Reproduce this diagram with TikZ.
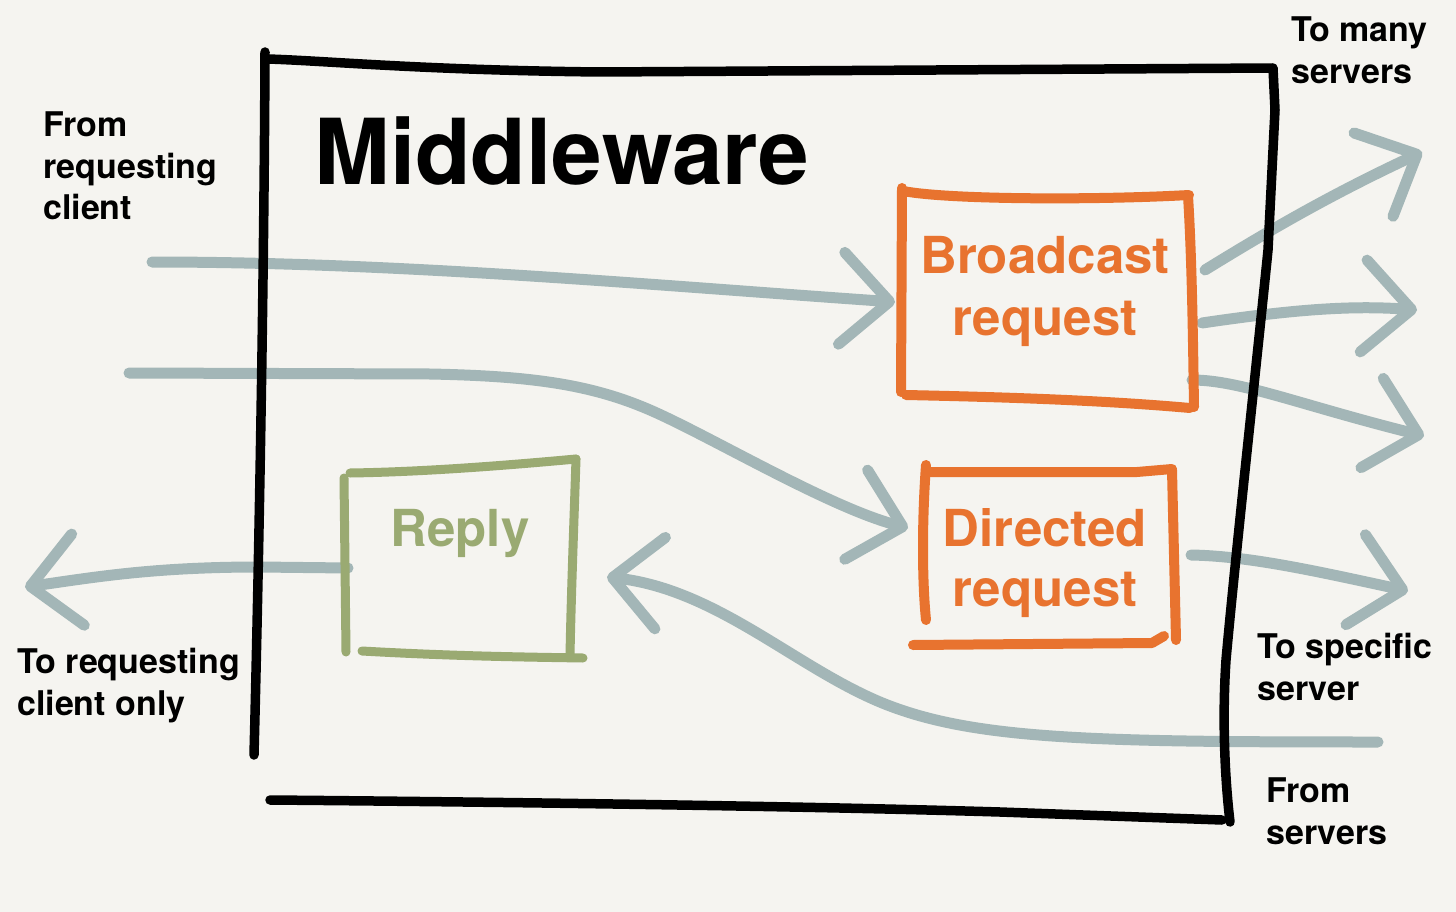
\documentclass[tikz,border=0pt]{standalone}
\usepackage{fontspec}
\setmainfont{TeX Gyre Heros}
\usetikzlibrary{arrows.meta}
\definecolor{bgc}{HTML}{F5F4F0}
\definecolor{orng}{HTML}{E8732F}
\definecolor{grn}{HTML}{9AAA72}
\definecolor{flow}{HTML}{A3B6B7}
\tikzset{
 frame/.style={line width=9.5pt, line cap=round, line join=round, black},
 obox/.style={line width=10pt, line cap=round, line join=round, orng},
 gbox/.style={line width=9pt, line cap=round, line join=round, grn},
 flowline/.style={line width=11pt, line cap=round, line join=round, flow, -{Straight Barb[length=48pt,width=92pt,round]}},
 lbl/.style={font=\fontsize{34}{42}\selectfont\bfseries, align=left, inner sep=0pt, anchor=base west},
 boxtext/.style={font=\fontsize{51}{62}\selectfont\bfseries, align=center, inner sep=0pt, anchor=base},
}
\begin{document}
\begin{tikzpicture}[x=1pt,y=-1pt]
\useasboundingbox (0,0) rectangle (1456,912);
\fill[bgc] (0,0) rectangle (1456,912);

% text nodes (base anchor = baseline of last line)
\node[font=\fontsize{91}{91}\selectfont\bfseries, inner sep=0pt, anchor=base west] (mw) at (314,185) {Middleware};
\node[boxtext, text=orng] (bc) at (1045,335) {Broadcast\\request};
\node[boxtext, text=orng, font=\fontsize{51}{60}\selectfont\bfseries] (dr) at (1045,606) {Directed\\request};
\node[boxtext, text=grn] (rp) at (460,546) {Reply};
\node[lbl] (l1) at (43,220) {From\\requesting\\client};
\node[lbl] (l2) at (1291,84) {To many\\servers};
\node[lbl] (l3) at (17,715) {To requesting\\client only};
\node[lbl] (l4) at (1257,700) {To specific\\server};
\node[lbl] (l5) at (1266,844) {From\\servers};

% connector ends
\coordinate (inA) at (152,262);
\coordinate (bcW) at (895,302);
\coordinate (inB) at (129,373);
\coordinate (drW) at (908,528);
\coordinate (bcE1) at (1205,270);
\coordinate (outA) at (1422,152);
\coordinate (bcE2) at (1202,323);
\coordinate (outB) at (1417,310);
\coordinate (bcE3) at (1192,380);
\coordinate (outC) at (1424,436);
\coordinate (drE) at (1191,555);
\coordinate (outD) at (1408,591);
\coordinate (srv) at (1378,742);
\coordinate (rpIn) at (607,577);
\coordinate (rpW) at (348,568);
\coordinate (cli) at (25,587);

% flows
\draw[flowline] (inA) .. controls (400,262) and (650,285) .. (bcW);
\draw[flowline] (inB) -- (430,374) .. controls (530,376) and (590,384) .. (650,410) .. controls (710,436) and (830,508) .. (drW);
\draw[flowline] (bcE1) .. controls (1270,230) and (1330,195) .. (outA);
\draw[flowline] (bcE2) .. controls (1290,310) and (1350,305) .. (outB);
\draw[flowline] (bcE3) .. controls (1240,380) and (1300,405) .. (outC);
\draw[flowline] (drE) .. controls (1250,556) and (1320,572) .. (outD);
\draw[flowline] (srv) .. controls (1100,742) and (980,740) .. (890,706) .. controls (800,672) and (720,590) .. (rpIn);
\draw[flowline] (rpW) -- (259,567) .. controls (150,567) and (90,578) .. (cli);

% middleware frame
\draw[frame] (265,52) .. controls (264,300) and (258,600) .. (254,755);
\draw[frame] (268,59) .. controls (330,61) and (420,70) .. (600,72) -- (1273,68) -- (1275,110) -- (1268,250) .. controls (1258,350) and (1235,560) .. (1226,660) .. controls (1222,720) and (1225,780) .. (1230,822);
\draw[frame] (270,800) .. controls (500,802) and (800,806) .. (1000,812) -- (1222,820);

% broadcast box
\draw[obox] (902,188) -- (901,392);
\draw[obox] (903,191) .. controls (950,200) and (1100,200) .. (1189,195);
\draw[obox] (1188,196) .. controls (1192,260) and (1193,340) .. (1194,407);
\draw[obox] (906,395) .. controls (1000,397) and (1100,400) .. (1190,408);

% directed box
\draw[obox] (926,465) .. controls (922,520) and (922,580) .. (926,620);
\draw[obox] (930,472) -- (1137,472) -- (1172,469);
\draw[obox] (1172,470) -- (1176,640);
\draw[obox] (913,645) -- (1152,643) -- (1164,636);

% reply box
\draw[gbox] (344,478) -- (346,652);
\draw[gbox] (350,473) .. controls (420,472) and (500,466) .. (576,459);
\draw[gbox] (576,459) .. controls (574,520) and (571,600) .. (570,656);
\draw[gbox] (362,651) .. controls (450,656) and (520,657) .. (583,658);
\end{tikzpicture}
\end{document}
